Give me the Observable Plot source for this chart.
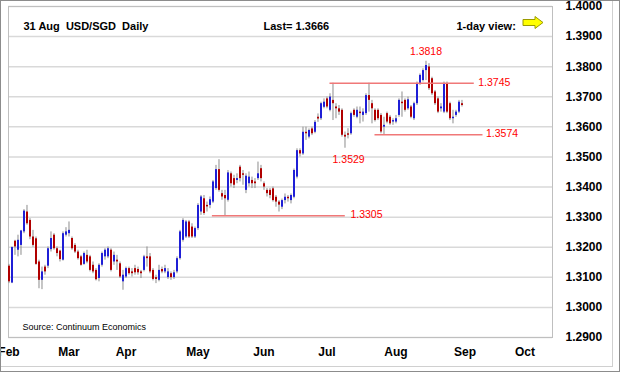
<!DOCTYPE html>
<html><head><meta charset="utf-8">
<script src="https://cdn.jsdelivr.net/npm/d3@7"></script>
<script src="https://cdn.jsdelivr.net/npm/@observablehq/plot@0.6"></script>
<style>
html,body{margin:0;padding:0;background:#fff;}
#wrap{position:relative;width:620px;height:372px;overflow:hidden;background:#fff;}
#chart svg{display:block;}
#outer{position:absolute;left:0;top:0;width:620px;height:372px;box-sizing:border-box;border:1px solid #8c8c8c;pointer-events:none;}
#inner{position:absolute;left:0;top:0;width:613px;height:367px;box-sizing:border-box;border-right:1px solid #d0d0d0;border-bottom:1px solid #d0d0d0;pointer-events:none;}
#arrow{position:absolute;left:522px;top:15px;}
</style></head><body>
<div id="wrap"><div id="chart"></div><div id="inner"></div><div id="outer"></div>
<svg id="arrow" width="24" height="16"><polygon points="1,4.5 13,4.5 13,1.5 21,7.5 13,13.5 13,10.5 1,10.5" fill="#ffff00" stroke="#9a9a00" stroke-width="1"/></svg>
</div>
<script>
// Daily USD/SGD candles, one per trading day from 1 Feb to 31 Aug
const opens = [
1.3137,1.3081,1.3220,1.3190,1.3206,1.3251,1.3317,1.3289,1.3234,1.3228,
1.3151,1.3090,1.3134,1.3137,1.3192,1.3240,1.3195,1.3187,1.3157,1.3240,
1.3245,1.3229,1.3206,1.3184,1.3168,1.3143,1.3173,1.3168,1.3140,1.3123,
1.3096,1.3140,1.3168,1.3168,1.3190,1.3151,1.3157,1.3145,1.3085,1.3101,
1.3129,1.3118,1.3129,1.3126,1.3118,1.3123,1.3168,1.3168,1.3123,1.3099,
1.3090,1.3126,1.3118,1.3099,1.3112,1.3099,1.3118,1.3162,1.3223,1.3234,
1.3284,1.3267,1.3234,1.3262,1.3317,1.3361,1.3339,1.3339,1.3350,1.3395,
1.3458,1.3378,1.3372,1.3356,1.3444,1.3428,1.3422,1.3466,1.3444,1.3389,
1.3411,1.3422,1.3417,1.3428,1.3461,1.3411,1.3389,1.3389,1.3394,1.3366,
1.3350,1.3333,1.3355,1.3366,1.3355,1.3366,1.3433,1.3521,1.3510,1.3582,
1.3566,1.3593,1.3582,1.3632,1.3627,1.3665,1.3693,1.3655,1.3688,1.3666,
1.3660,1.3655,1.3572,1.3577,1.3577,1.3655,1.3632,1.3649,1.3638,1.3644,
1.3704,1.3677,1.3655,1.3655,1.3638,1.3599,1.3644,1.3632,1.3616,1.3616,
1.3638,1.3682,1.3688,1.3660,1.3666,1.3627,1.3677,1.3743,1.3754,1.3787,
1.3799,1.3760,1.3716,1.3693,1.3660,1.3649,1.3743,1.3677,1.3627,1.3638,
1.3649,1.3677];
const highs = [
1.3143,1.3201,1.3223,1.3240,1.3256,1.3325,1.3339,1.3295,1.3256,1.3234,
1.3157,1.3134,1.3140,1.3201,1.3251,1.3245,1.3201,1.3190,1.3251,1.3265,
1.3284,1.3234,1.3212,1.3190,1.3173,1.3184,1.3190,1.3173,1.3151,1.3129,
1.3145,1.3184,1.3195,1.3201,1.3195,1.3184,1.3173,1.3151,1.3123,1.3134,
1.3134,1.3129,1.3140,1.3134,1.3123,1.3173,1.3201,1.3179,1.3129,1.3107,
1.3140,1.3134,1.3140,1.3129,1.3118,1.3123,1.3168,1.3256,1.3295,1.3289,
1.3289,1.3278,1.3267,1.3345,1.3372,1.3372,1.3350,1.3367,1.3422,1.3472,
1.3491,1.3389,1.3389,1.3455,1.3450,1.3439,1.3444,1.3472,1.3455,1.3444,
1.3450,1.3433,1.3428,1.3483,1.3472,1.3417,1.3395,1.3395,1.3400,1.3372,
1.3355,1.3360,1.3377,1.3372,1.3377,1.3460,1.3527,1.3527,1.3599,1.3599,
1.3593,1.3599,1.3621,1.3643,1.3682,1.3693,1.3699,1.3710,1.3745,1.3677,
1.3671,1.3660,1.3583,1.3594,1.3649,1.3660,1.3666,1.3666,1.3660,1.3710,
1.3745,1.3688,1.3660,1.3660,1.3644,1.3632,1.3649,1.3638,1.3627,1.3638,
1.3693,1.3716,1.3693,1.3699,1.3671,1.3682,1.3749,1.3776,1.3793,1.3818,
1.3810,1.3765,1.3721,1.3699,1.3677,1.3749,1.3749,1.3682,1.3655,1.3655,
1.3688,1.3688];
const lows = [
1.3079,1.3079,1.3173,1.3168,1.3173,1.3245,1.3273,1.3225,1.3200,1.3140,
1.3062,1.3059,1.3107,1.3129,1.3184,1.3190,1.3168,1.3151,1.3154,1.3234,
1.3234,1.3190,1.3179,1.3157,1.3137,1.3140,1.3145,1.3118,1.3112,1.3088,
1.3085,1.3134,1.3157,1.3162,1.3118,1.3140,1.3123,1.3096,1.3057,1.3096,
1.3107,1.3101,1.3107,1.3107,1.3096,1.3118,1.3134,1.3112,1.3088,1.3079,
1.3085,1.3112,1.3112,1.3093,1.3090,1.3093,1.3112,1.3157,1.3217,1.3229,
1.3229,1.3229,1.3229,1.3256,1.3306,1.3306,1.3317,1.3328,1.3345,1.3389,
1.3383,1.3356,1.3305,1.3350,1.3400,1.3395,1.3411,1.3417,1.3406,1.3378,
1.3400,1.3395,1.3395,1.3422,1.3417,1.3389,1.3367,1.3361,1.3350,1.3333,
1.3317,1.3325,1.3344,1.3350,1.3344,1.3361,1.3427,1.3500,1.3505,1.3555,
1.3560,1.3571,1.3577,1.3615,1.3621,1.3660,1.3660,1.3650,1.3621,1.3627,
1.3638,1.3566,1.3529,1.3560,1.3572,1.3632,1.3627,1.3610,1.3616,1.3638,
1.3649,1.3610,1.3616,1.3621,1.3577,1.3574,1.3610,1.3605,1.3605,1.3610,
1.3632,1.3632,1.3649,1.3655,1.3627,1.3621,1.3671,1.3738,1.3749,1.3754,
1.3721,1.3704,1.3671,1.3644,1.3649,1.3644,1.3644,1.3621,1.3610,1.3632,
1.3644,1.3666];
const closes = [
1.3085,1.3199,1.3201,1.3223,1.3254,1.3320,1.3278,1.3234,1.3206,1.3143,
1.3090,1.3118,1.3118,1.3195,1.3229,1.3195,1.3179,1.3159,1.3245,1.3251,
1.3256,1.3195,1.3184,1.3162,1.3140,1.3179,1.3151,1.3123,1.3118,1.3092,
1.3140,1.3179,1.3190,1.3195,1.3123,1.3173,1.3151,1.3101,1.3107,1.3129,
1.3112,1.3112,1.3115,1.3115,1.3112,1.3168,1.3162,1.3118,1.3093,1.3093,
1.3123,1.3118,1.3129,1.3118,1.3099,1.3115,1.3162,1.3251,1.3289,1.3284,
1.3234,1.3234,1.3262,1.3339,1.3367,1.3312,1.3334,1.3358,1.3417,1.3458,
1.3389,1.3367,1.3361,1.3447,1.3411,1.3406,1.3428,1.3428,1.3439,1.3436,
1.3433,1.3411,1.3411,1.3444,1.3428,1.3400,1.3378,1.3372,1.3355,1.3350,
1.3340,1.3355,1.3366,1.3361,1.3372,1.3455,1.3521,1.3510,1.3582,1.3577,
1.3588,1.3577,1.3615,1.3626,1.3677,1.3682,1.3666,1.3699,1.3677,1.3660,
1.3649,1.3572,1.3566,1.3572,1.3644,1.3638,1.3655,1.3644,1.3649,1.3704,
1.3688,1.3660,1.3621,1.3627,1.3583,1.3605,1.3616,1.3610,1.3621,1.3627,
1.3688,1.3677,1.3655,1.3690,1.3632,1.3677,1.3743,1.3771,1.3787,1.3804,
1.3727,1.3710,1.3677,1.3649,1.3666,1.3743,1.3649,1.3627,1.3632,1.3649,
1.3682,1.3671];

// Axis ticks (x = trading-day index of each month start)
const monthTicks  = [0, 20, 39, 63, 85, 106, 129, 152, 172];
const monthLabels = ["Feb","Mar","Apr","May","Jun","Jul","Aug","Sep","Oct"];
const yTicks = [1.29,1.30,1.31,1.32,1.33,1.34,1.35,1.36,1.37,1.38,1.39,1.40];

// Support / resistance annotations
const levelValues = [1.3745, 1.3574, 1.3305];
const levelFrom   = [107, 122, 67.8];
const levelTo     = [155.1, 158, 112.1];
const noteTexts   = ["1.3818", "1.3745", "1.3574", "1.3529", "1.3305"];
const noteX       = [139, 156.4, 159, 113.2, 113.8];
const noteY       = [1.3818, 1.3745, 1.3574, 1.3529, 1.3305];

const candles = opens.map((o, i) => ({i, open: o, high: highs[i], low: lows[i], close: closes[i]}));
const levels = levelValues.map((v, j) => ({v, x1: levelFrom[j], x2: levelTo[j]}));
const notes = noteTexts.map((t, j) => ({t, x: noteX[j], y: noteY[j]}));

const bold = "Liberation Sans";
const chart = Plot.plot({
  width: 620, height: 372,
  marginLeft: 8, marginRight: 68, marginTop: 6, marginBottom: 35,
  style: {fontFamily: "Liberation Sans, Arial, sans-serif", fontSize: "11px", color: "#000", background: "transparent", overflow: "hidden"},
  x: {domain: [-1/6, 181.17]},
  y: {domain: [1.29, 1.40]},
  marks: [
    Plot.gridY(yTicks, {stroke: "#d9d9d9", strokeOpacity: 1, strokeWidth: 1.5}),
    Plot.frame({stroke: "#bfbfbf"}),
    Plot.ruleX(candles, {x: "i", y1: "low", y2: "high", stroke: "#8c8c8c"}),
    Plot.ruleX(candles, {x: "i", y1: "open", y2: "close", strokeWidth: 2,
      stroke: d => d.close >= d.open ? "#1f1fd6" : "#b00000"}),
    Plot.ruleY(levels, {y: "v", x1: "x1", x2: "x2", stroke: "#f07878", strokeWidth: 1.5}),
    Plot.text(notes.filter(d => d.t === "1.3818"), {x: "x", y: "y", text: "t", fill: "#ff0000", fontSize: 10.5, dy: -10, textAnchor: "middle"}),
    Plot.text(notes.filter(d => d.t === "1.3529"), {x: "x", y: "y", text: "t", fill: "#ff0000", fontSize: 10.5, dy: 11, textAnchor: "middle"}),
    Plot.text(notes.filter(d => d.t !== "1.3818" && d.t !== "1.3529"), {x: "x", y: "y", text: "t", fill: "#ff0000", fontSize: 10.5, dy: -1, textAnchor: "start"}),
    Plot.text(["31 Aug\u00a0 USD/SGD\u00a0 Daily"], {frameAnchor: "top-left", dx: 15, dy: 15.5, text: d => d, textAnchor: "start", fontWeight: "bold", fontSize: 11}),
    Plot.text(["Last= 1.3666"], {frameAnchor: "top-left", dx: 255, dy: 16, text: d => d, textAnchor: "start", fontWeight: "bold", fontSize: 11}),
    Plot.text(["1-day view:"], {frameAnchor: "top-left", dx: 448, dy: 15.5, text: d => d, textAnchor: "start", fontWeight: "bold", fontSize: 11}),
    Plot.text(["Source: Continuum Economics"], {frameAnchor: "bottom-left", dx: 14, dy: -8, text: d => d, textAnchor: "start", fontSize: 9}),
    Plot.axisY(yTicks, {anchor: "right", tickSize: 0, tickPadding: 13, tickFormat: d3.format(".4f"), fontWeight: "bold", fontSize: 12, label: null}),
    Plot.axisX(monthTicks, {anchor: "bottom", tickSize: 0, tickPadding: 10, tickFormat: d => monthLabels[monthTicks.indexOf(d)], fontWeight: "bold", fontSize: 12, label: null})
  ]
});
document.getElementById("chart").appendChild(chart);
</script>
</body></html>
